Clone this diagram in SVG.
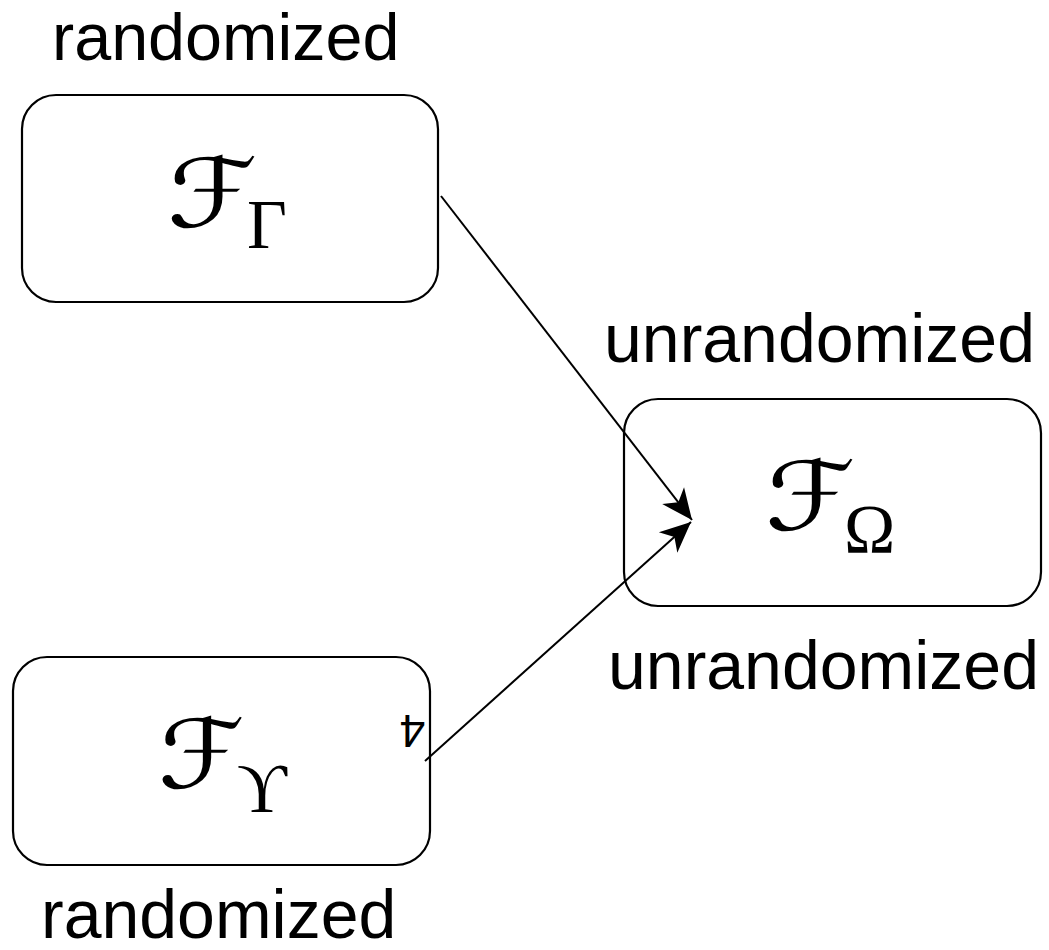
<svg xmlns="http://www.w3.org/2000/svg" width="1049" height="950" viewBox="0 0 1049 950">
<style>
.box{fill:#fff;stroke:#000;stroke-width:2.2}
.lbl{font-family:"Liberation Sans",Arial,sans-serif;font-size:68px;fill:#000}
.top{font-size:66.5px}
.cal{font-family:"DejaVu Serif","DejaVu Sans",serif;font-size:96px;fill:#000}
.sub{font-family:"Liberation Serif","Times New Roman",serif;font-size:69px;fill:#000}
.edge{stroke:#000;stroke-width:2;fill:none}
</style>
<defs>
<marker id="ah" markerUnits="userSpaceOnUse" markerWidth="34" markerHeight="34" viewBox="-30 -15 32 30" refX="0" refY="0" orient="auto">
<path d="M0,0 L-29,-13 L-21,0 L-29,13 Z" fill="#000"/>
</marker>
</defs>
<rect width="1049" height="950" fill="#fff"/>
<g id="node-gamma">
<rect class="box" x="22" y="95" width="416" height="207" rx="34" ry="34"/>
<text class="lbl top" x="52" y="60">randomized</text>
<text class="cal" transform="translate(167,227) scale(1.2,1)">ℱ</text>
<text class="sub" x="247" y="248">Γ</text>
</g>
<g id="node-omega">
<rect class="box" x="624" y="399" width="417" height="207" rx="34" ry="34"/>
<text class="lbl" x="604" y="362">unrandomized</text>
<text class="lbl" x="608" y="689">unrandomized</text>
<text class="cal" transform="translate(765,530) scale(1.2,1)">ℱ</text>
<text class="sub" x="844" y="553">Ω</text>
</g>
<g id="node-upsilon">
<rect class="box" x="13" y="657" width="417" height="208" rx="34" ry="34"/>
<text class="cal" transform="translate(158,788) scale(1.15,1)">ℱ</text>
<text class="sub" x="237" y="812">ϒ</text>
<text class="lbl" x="41" y="938">randomized</text>
<text x="0" y="0" text-anchor="middle" transform="translate(412.5,715) rotate(180)" style="font-family:'Liberation Sans',Arial,sans-serif;font-size:46px">4</text>
</g>
<g id="connectors">
<line class="edge" x1="441" y1="196" x2="692" y2="520" marker-end="url(#ah)"/>
<line class="edge" x1="425" y1="761" x2="691" y2="522" marker-end="url(#ah)"/>
</g>
</svg>
